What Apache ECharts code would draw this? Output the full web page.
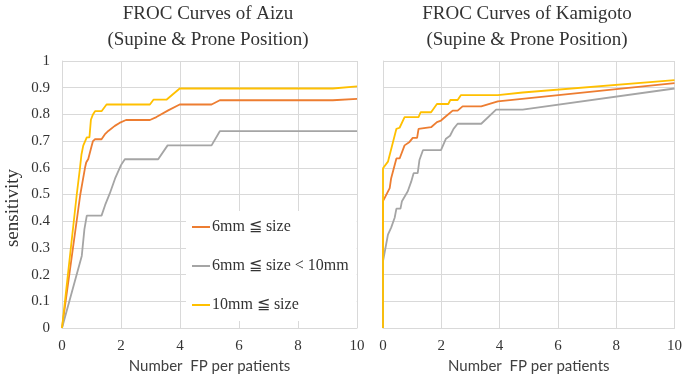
<!DOCTYPE html>
<html>
<head>
<meta charset="utf-8">
<script src="https://cdn.jsdelivr.net/npm/echarts@6/dist/echarts.min.js"></script>
<style>
  html, body { margin: 0; padding: 0; background: #fff; }
  #chart { width: 685px; height: 379px; }
</style>
</head>
<body>
<div id="chart"></div>
<script>
// series names (legend)
const seriesNames = ["6mm ≦ size", "6mm ≦ size < 10mm", "10mm ≦ size"];
const seriesColors = ["#ED7D31", "#A5A5A5", "#FFC000"];

// Aizu: [FP per patient, sensitivity]
const aizuAll = [
  [0, 0], [0.62, 0.5], [0.7, 0.55], [0.78, 0.6], [0.82, 0.62], [0.89, 0.633],
  [0.95, 0.633], [1.0, 0.68], [1.05, 0.7], [1.12, 0.707], [1.34, 0.707],
  [1.45, 0.725], [1.57, 0.738], [1.79, 0.757], [1.95, 0.768], [2.17, 0.779],
  [2.98, 0.779], [3.2, 0.79], [3.6, 0.815], [3.99, 0.837], [5.07, 0.837],
  [5.35, 0.853], [9.18, 0.853], [10, 0.858]
];
const aizuMid = [
  [0, 0], [0.67, 0.27], [0.72, 0.27], [0.76, 0.37], [0.78, 0.37], [0.84, 0.421],
  [1.34, 0.421], [1.46, 0.46], [1.62, 0.504], [1.8, 0.56], [2.0, 0.61],
  [2.13, 0.632], [3.26, 0.632], [3.58, 0.684], [5.07, 0.684], [5.35, 0.737],
  [10, 0.737]
];
const aizuLarge = [
  [0, 0], [0.5, 0.5], [0.61, 0.6], [0.66, 0.65], [0.72, 0.683], [0.84, 0.714],
  [0.93, 0.714], [0.98, 0.78], [1.05, 0.8], [1.12, 0.812], [1.34, 0.812],
  [1.51, 0.837], [2.98, 0.837], [3.1, 0.855], [3.54, 0.855], [3.99, 0.897],
  [9.18, 0.897], [10, 0.905]
];

// Kamigoto
const kamiAll = [
  [0, 0], [0, 0.475], [0.23, 0.524], [0.28, 0.561], [0.46, 0.635], [0.57, 0.635],
  [0.74, 0.684], [0.91, 0.697], [1.02, 0.712], [1.17, 0.712], [1.22, 0.746],
  [1.65, 0.752], [1.85, 0.771], [1.99, 0.777], [2.16, 0.793], [2.39, 0.814],
  [2.56, 0.814], [2.73, 0.83], [3.37, 0.83], [3.94, 0.849], [10, 0.917]
];
const kamiMid = [
  [0, 0], [0, 0.25], [0.17, 0.35], [0.28, 0.376], [0.4, 0.413], [0.46, 0.447],
  [0.6, 0.447], [0.65, 0.475], [0.85, 0.512], [0.97, 0.549], [1.05, 0.58],
  [1.19, 0.58], [1.25, 0.629], [1.37, 0.666], [1.99, 0.666], [2.16, 0.709],
  [2.3, 0.72], [2.42, 0.746], [2.56, 0.765], [3.37, 0.765], [3.88, 0.818],
  [4.79, 0.818], [10, 0.897]
];
const kamiLarge = [
  [0, 0], [0, 0.598], [0.17, 0.623], [0.46, 0.746], [0.57, 0.75], [0.74, 0.79],
  [1.22, 0.79], [1.29, 0.808], [1.65, 0.808], [1.85, 0.839], [2.24, 0.839],
  [2.31, 0.854], [2.56, 0.854], [2.67, 0.872], [3.94, 0.872], [4.79, 0.882],
  [10, 0.928]
];

const titles = [
  "FROC Curves of Aizu\n(Supine & Prone Position)",
  "FROC Curves of Kamigoto\n(Supine & Prone Position)"
];
const xName = "Number  FP per patients";
const yName = "sensitivity";

const serif = "Liberation Serif";
const gridLine = "#D9D9D9";

// tick labels in serif, via rich text
const tickLabel = {
  formatter: "{s|{value}}",
  rich: { s: { fontFamily: serif, fontSize: 15, color: "#333" } }
};

function xAxisFor(gridIndex) {
  return {
    type: "value", gridIndex, min: 0, max: 10, interval: 2,
    name: xName, nameLocation: "middle", nameGap: 31,
    nameTextStyle: { fontFamily: "Lato", fontSize: 15, color: "#404040" },
    axisLine: { show: true, lineStyle: { color: gridLine } },
    axisTick: { show: false },
    axisLabel: Object.assign({ margin: 11, fontFamily: serif, fontSize: 15 }, tickLabel),
    splitLine: { lineStyle: { color: gridLine } }
  };
}
function yAxisFor(gridIndex, showLabels) {
  return {
    type: "value", gridIndex, min: 0, max: 1, interval: 0.1,
    axisLine: { show: true, lineStyle: { color: gridLine } },
    axisTick: { show: false },
    axisLabel: Object.assign({ show: showLabels, margin: 12, fontFamily: serif, fontSize: 15 }, tickLabel),
    splitLine: { lineStyle: { color: gridLine } }
  };
}
function line(name, color, data, idx) {
  return {
    type: "line", name, data, xAxisIndex: idx, yAxisIndex: idx,
    symbol: "none", color,
    lineStyle: { width: 1.8, color },
    animation: false
  };
}

const chart = echarts.init(document.getElementById("chart"));
chart.setOption({
  backgroundColor: "#fff",
  animation: false,
  textStyle: { fontFamily: serif },
  title: [
    { text: titles[0], left: 208, top: 1, textAlign: "center", padding: 0,
      textStyle: { fontFamily: serif, fontSize: 19, fontWeight: "normal", color: "#333", lineHeight: 26 } },
    { text: titles[1], left: 527, top: 1, textAlign: "center", padding: 0,
      textStyle: { fontFamily: serif, fontSize: 19, fontWeight: "normal", color: "#333", lineHeight: 26 } }
  ],
  grid: [
    { left: 62, top: 61, width: 295, height: 270 },
    { left: 383, top: 61, width: 293, height: 270 }
  ],
  xAxis: [xAxisFor(0), xAxisFor(1)],
  yAxis: [yAxisFor(0, true), yAxisFor(1, false)],
  legend: {
    data: seriesNames,
    orient: "vertical",
    left: 186, top: 211,
    padding: [8, 8, 8, 6],
    icon: "rect",
    itemWidth: 18, itemHeight: 2, itemGap: 23,
    backgroundColor: "#fff",
    textStyle: { fontFamily: serif, fontSize: 16, color: "#333", padding: [0, 0, 0, -3] }
  },
  graphic: [
    { type: "text", x: 13, y: 208, rotation: Math.PI / 2,
      style: { text: yName, align: "center", verticalAlign: "middle",
        font: "19px 'Liberation Serif', serif", fill: "#333" } }
  ],
  series: [
    line(seriesNames[0], seriesColors[0], aizuAll, 0),
    line(seriesNames[1], seriesColors[1], aizuMid, 0),
    line(seriesNames[2], seriesColors[2], aizuLarge, 0),
    line(seriesNames[0], seriesColors[0], kamiAll, 1),
    line(seriesNames[1], seriesColors[1], kamiMid, 1),
    line(seriesNames[2], seriesColors[2], kamiLarge, 1)
  ]
});
</script>
</body>
</html>
